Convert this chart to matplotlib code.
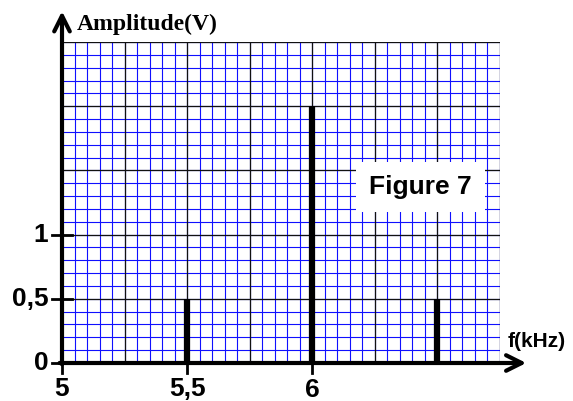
import matplotlib.pyplot as plt
import numpy as np

# spectrum lines
freqs = [5.5, 6.0, 6.5]          # kHz
amps = [0.5, 2.0, 0.5]           # V

x_ticks = [5.0, 5.5, 6.0]
x_labels = ["5", "5,5", "6"]
y_ticks = [0.0, 0.5, 1.0]
y_labels = ["0", "0,5", "1"]

X_MAX = 6.75
Y_MAX = 2.5


def main():
    fig = plt.figure(figsize=(5.73, 4.01), dpi=100)
    ax = fig.add_axes([62 / 573, 38 / 401, 438 / 573, 321 / 401])
    ax.set_xlim(5.0, X_MAX)
    ax.set_ylim(0, Y_MAX)
    ax.axis("off")

    # millimetre paper: thin blue lines, black every 5th
    minor_x = np.arange(5.0, X_MAX + 1e-9, 0.05)
    minor_y = np.arange(0.0, Y_MAX + 1e-9, 0.1)
    ax.vlines(minor_x, 0, Y_MAX, color="#1010ff", lw=0.8, zorder=1)
    ax.hlines(minor_y, 5.0, X_MAX, color="#1010ff", lw=0.8, zorder=1)
    major_x = np.arange(5.0, X_MAX + 1e-9, 0.25)
    major_y = np.arange(0.0, Y_MAX + 1e-9, 0.5)
    ax.vlines(major_x, 0, Y_MAX, color="#111111", lw=0.9, zorder=2)
    ax.hlines(major_y, 5.0, X_MAX, color="#111111", lw=0.9, zorder=2)

    # spectral lines
    ax.vlines(freqs, 0, amps, color="black", lw=4.5, zorder=4,
              capstyle="butt")

    # axes with arrows
    ax.annotate("", xy=(5.0, 2.74), xytext=(5.0, -0.01),
                arrowprops=dict(arrowstyle="->", lw=3, color="black",
                                mutation_scale=28, shrinkA=0, shrinkB=0),
                annotation_clip=False, zorder=5)
    ax.annotate("", xy=(6.855, 0.0), xytext=(4.99, 0.0),
                arrowprops=dict(arrowstyle="->", lw=3, color="black",
                                mutation_scale=28, shrinkA=0, shrinkB=0),
                annotation_clip=False, zorder=5)

    # tick marks and labels
    for y, lab in zip(y_ticks, y_labels):
        ax.plot([4.96, 5.04], [y, y], color="black", lw=2, clip_on=False,
                zorder=5)
        ax.text(4.945, y, lab, ha="right", va="center", fontsize=19,
                fontweight="bold", family="Liberation Sans")
    for i, (x, lab) in enumerate(zip(x_ticks, x_labels)):
        ax.plot([x, x], [0, -0.08], color="black", lw=2, clip_on=False,
                zorder=5)
        dy = -0.2 if i < 2 else -0.21
        ax.text(x, dy, lab, ha="center", va="center", fontsize=19,
                fontweight="bold", family="Liberation Sans")

    ax.text(5.06, 2.64, "Amplitude(V)", ha="left", va="center",
            fontsize=17, fontweight="bold", family="Liberation Serif")
    ax.text(6.78, 0.17, "f(kHz)", ha="left", va="center", fontsize=15,
            fontweight="bold", family="Liberation Sans")
    ax.text(6.432, 1.37, "Figure 7", ha="center", va="center", fontsize=19,
            fontweight="bold", family="Liberation Sans", zorder=6,
            bbox=dict(boxstyle="square,pad=0.5", fc="white", ec="none"))

    fig.savefig("out.png", dpi=100)


if __name__ == "__main__":
    main()
